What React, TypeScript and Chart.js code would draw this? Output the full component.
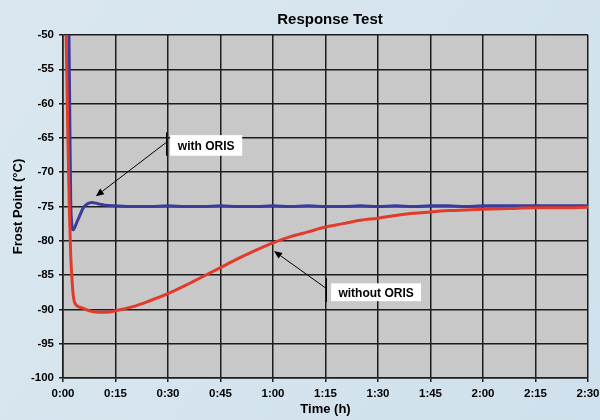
import React, { useEffect, useRef } from "react";
import { Chart, registerables } from "chart.js";

Chart.register(...registerables);

// ---- Text ----
const chartTitle = "Response Test";
const xAxisTitle = "Time (h)";
const yAxisTitle = "Frost Point (°C)";
const seriesNames = ["without ORIS", "with ORIS"];

// ---- Axis ranges (minutes / °C) ----
const xRange = [0, 150];
const xStep = 15;
const yRange = [-100, -50];
const yStep = 5;

// ---- Series: without ORIS (red) ----
const redMinutes = [
  0.5, 0.9, 1.4, 1.8, 2.2, 2.5, 2.9, 3.4, 5, 7.5, 10, 12.5, 15, 20, 25, 30, 35, 40, 45, 50,
  55, 60, 65, 70, 75, 80, 85, 90, 95, 100, 105, 110, 115, 120, 127.5, 135, 142.5, 150,
];
const redValues = [
  -35, -50, -65, -75, -82, -85, -87.8, -89.1, -89.7, -90.2, -90.4, -90.4, -90.2, -89.6, -88.7,
  -87.7, -86.5, -85.2, -83.9, -82.6, -81.4, -80.3, -79.4, -78.7, -78.0, -77.5, -77.0, -76.7,
  -76.3, -76.0, -75.8, -75.6, -75.5, -75.4, -75.3, -75.2, -75.2, -75.1,
];

// ---- Series: with ORIS (blue) ----
const blueMinutes = [
  1.2, 1.7, 2.0, 2.2, 2.5, 2.9, 3.4, 4.2, 4.9, 5.8, 7, 8.2, 10, 12, 15, 20, 25, 30, 35, 40, 45,
  50, 55, 60, 65, 70, 75, 80, 85, 90, 95, 100, 105, 110, 115, 120, 125, 130, 135, 140, 145, 150,
];
const blueValues = [
  -35, -50, -65, -74, -77.5, -78.4, -78.0, -77.0, -76.2, -75.2, -74.6, -74.4, -74.6, -74.8,
  -74.9, -75.0, -75.0, -74.9, -75.0, -75.0, -74.9, -75.0, -75.0, -74.9, -75.0, -74.9, -75.0,
  -75.0, -74.9, -75.0, -74.9, -75.0, -74.9, -74.9, -75.0, -74.9, -74.9, -74.9, -74.9, -74.9,
  -74.9, -74.9,
];

// ---- Callouts (data coordinates: minutes, °C) ----
const callouts = [
  {
    text: "with ORIS",
    box: [30.6, -64.6, 51.2, -67.6],
    bar: [29.4, -64.2, -67.6],
    arrow: [29.4, -65.7, 9.4, -73.5],
  },
  {
    text: "without ORIS",
    box: [76.6, -86.2, 102.3, -88.8],
    bar: [75.1, -85.4, -88.9],
    arrow: [75.1, -86.9, 60.3, -81.5],
  },
];

const FONT = "'Liberation Sans', Arial, Helvetica, sans-serif";

function fmtTime(m: number): string {
  const h = Math.floor(m / 60);
  const mm = Math.round(m - h * 60);
  return `${h}:${mm < 10 ? "0" : ""}${mm}`;
}

const decorPlugin = {
  id: "decor",
  beforeDraw(chart: any) {
    const { ctx, width, height, chartArea } = chart;
    ctx.save();
    const g = ctx.createLinearGradient(0, 0, width, height);
    g.addColorStop(0, "#dae7f0");
    g.addColorStop(0.5, "#d5e4ee");
    g.addColorStop(1, "#cfe0ec");
    ctx.fillStyle = g;
    ctx.fillRect(0, 0, width, height);
    ctx.fillStyle = "#c8c8c9";
    ctx.fillRect(chartArea.left, chartArea.top, chartArea.right - chartArea.left, chartArea.bottom - chartArea.top);
    ctx.restore();
  },
  afterDatasetsDraw(chart: any) {
    const { ctx } = chart;
    const xs = chart.scales.x;
    const ys = chart.scales.y;
    ctx.save();
    for (const c of callouts) {
      const [bx1, by1, bx2, by2] = c.box;
      const l = xs.getPixelForValue(bx1);
      const r = xs.getPixelForValue(bx2);
      const t = ys.getPixelForValue(by1);
      const b = ys.getPixelForValue(by2);
      ctx.fillStyle = "#ffffff";
      ctx.fillRect(l, t, r - l, b - t);
      ctx.fillStyle = "#000000";
      ctx.font = `bold 12px ${FONT}`;
      ctx.textAlign = "center";
      ctx.textBaseline = "middle";
      ctx.fillText(c.text, (l + r) / 2, (t + b) / 2 + 1);

      // vertical bar
      const [vx, vy1, vy2] = c.bar;
      const px = Math.round(xs.getPixelForValue(vx)) + 0.5;
      ctx.strokeStyle = "#000000";
      ctx.lineWidth = 1;
      ctx.beginPath();
      ctx.moveTo(px, ys.getPixelForValue(vy1));
      ctx.lineTo(px, ys.getPixelForValue(vy2));
      ctx.stroke();

      // arrow
      const [ax1, ay1, ax2, ay2] = c.arrow;
      const x1 = xs.getPixelForValue(ax1);
      const y1 = ys.getPixelForValue(ay1);
      const x2 = xs.getPixelForValue(ax2);
      const y2 = ys.getPixelForValue(ay2);
      const ang = Math.atan2(y2 - y1, x2 - x1);
      const hl = 8;
      const hw = 3.5;
      const bxp = x2 - hl * Math.cos(ang);
      const byp = y2 - hl * Math.sin(ang);
      ctx.beginPath();
      ctx.moveTo(x1, y1);
      ctx.lineTo(bxp, byp);
      ctx.stroke();
      ctx.beginPath();
      ctx.moveTo(x2, y2);
      ctx.lineTo(bxp + hw * Math.sin(ang), byp - hw * Math.cos(ang));
      ctx.lineTo(bxp - hw * Math.sin(ang), byp + hw * Math.cos(ang));
      ctx.closePath();
      ctx.fill();
    }
    ctx.restore();
  },
  afterDraw(chart: any) {
    const { ctx } = chart;
    ctx.save();
    ctx.fillStyle = "#000000";
    ctx.font = `bold 15px ${FONT}`;
    ctx.textAlign = "center";
    ctx.textBaseline = "middle";
    ctx.fillText(chartTitle, 330, 20);
    ctx.restore();
  },
};

export default function App() {
  const ref = useRef<HTMLCanvasElement | null>(null);

  useEffect(() => {
    if (!ref.current) return;
    const red = redMinutes.map((m, i) => ({ x: m, y: redValues[i] }));
    const blue = blueMinutes.map((m, i) => ({ x: m, y: blueValues[i] }));
    const gridColor = "#1c1c1c";
    const chart = new Chart(ref.current, {
      type: "line",
      data: {
        datasets: [
          {
            label: seriesNames[0],
            data: red,
            borderColor: "#e23b2b",
            borderWidth: 3,
            pointRadius: 0,
            cubicInterpolationMode: "monotone",
            order: 0,
          },
          {
            label: seriesNames[1],
            data: blue,
            borderColor: "#3a3c9c",
            borderWidth: 3,
            pointRadius: 0,
            cubicInterpolationMode: "monotone",
            order: 1,
          },
        ],
      },
      options: {
        animation: false,
        responsive: false,
        devicePixelRatio: 1,
        layout: { padding: { top: 35, right: 12, left: 0, bottom: 0 } },
        plugins: {
          legend: { display: false },
          title: { display: false },
          tooltip: { enabled: false },
        },
        scales: {
          x: {
            type: "linear",
            min: xRange[0],
            max: xRange[1],
            afterFit: (s: any) => {
              s.height = 42;
              s.paddingRight = 0;
              s.paddingLeft = 0;
            },
            ticks: {
              stepSize: xStep,
              padding: 5,
              color: "#000",
              font: { family: FONT, size: 11.5, weight: "bold" },
              callback: (v: any) => fmtTime(Number(v)),
              maxRotation: 0,
            },
            grid: { color: gridColor, lineWidth: 1.5, tickLength: 4, tickColor: gridColor },
            border: { color: gridColor, width: 1.5 },
            title: {
              display: true,
              text: xAxisTitle,
              color: "#000",
              font: { family: FONT, size: 13, weight: "bold" },
              padding: { top: 0, bottom: 3 },
            },
          },
          y: {
            type: "linear",
            min: yRange[0],
            max: yRange[1],
            afterFit: (s: any) => {
              s.width = 63;
            },
            ticks: {
              stepSize: yStep,
              padding: 5,
              color: "#000",
              font: { family: FONT, size: 11.5, weight: "bold" },
            },
            grid: { color: gridColor, lineWidth: 1.5, tickLength: 4, tickColor: gridColor },
            border: { color: gridColor, width: 1.5 },
            title: {
              display: true,
              text: yAxisTitle,
              color: "#000",
              font: { family: FONT, size: 13, weight: "bold" },
              padding: { top: 11, bottom: 0 },
            },
          },
        },
      },
      plugins: [decorPlugin],
    } as any);
    return () => chart.destroy();
  }, []);

  return (
    <div style={{ position: "absolute", left: 0, top: 0, width: 600, height: 420 }}>
      <canvas ref={ref} width={600} height={420} style={{ display: "block", width: 600, height: 420 }} />
    </div>
  );
}
